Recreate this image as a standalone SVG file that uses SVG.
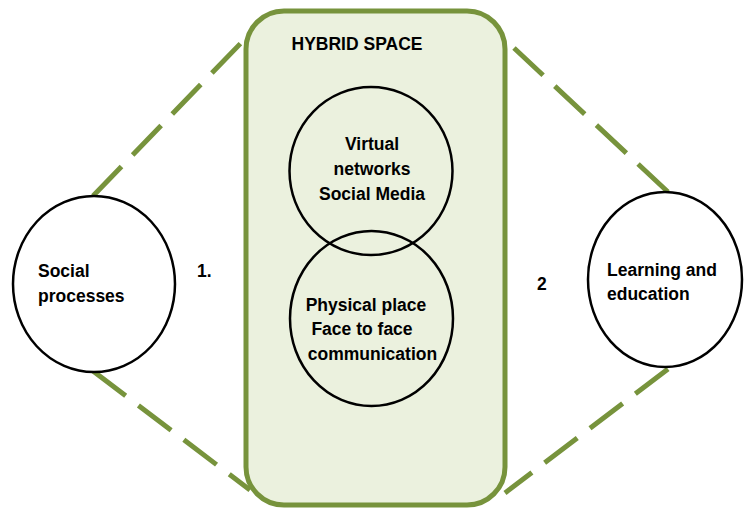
<svg xmlns="http://www.w3.org/2000/svg" width="744" height="511" viewBox="0 0 744 511">
  <style>
    .link { fill: none; stroke: #77933C; stroke-width: 5; stroke-dasharray: 41 16; }
    .hub { fill: #EBF1DE; stroke: #77933C; stroke-width: 5; }
    .bubble { fill: none; stroke: #000; stroke-width: 2.5; }
    .end { fill: #fff; stroke: #000; stroke-width: 2.5; }
    text { font-family: "Liberation Sans", Arial, sans-serif; font-weight: bold; font-size: 17.5px; fill: #000; }
    .mid { text-anchor: middle; }
  </style>
  <rect width="744" height="511" fill="#fff"/>

  <!-- dashed connectors between the outer circles and the hybrid space -->
  <g id="connectors">
    <path class="link" d="M93,196 L241,43"/>
    <path class="link" d="M668,192 L514,48"/>
    <path class="link" d="M93,371 L250,490"/>
    <path class="link" d="M668,369 L505,493"/>
  </g>

  <g id="hybrid-space">
    <rect class="hub" x="246" y="11" width="259" height="494" rx="38" ry="38"/>
    <text class="mid" x="357" y="50">HYBRID SPACE</text>
  </g>

  <g id="virtual">
    <ellipse class="bubble" cx="371" cy="171" rx="81.5" ry="84"/>
    <text class="mid" x="372" y="150">Virtual</text>
    <text class="mid" x="372" y="175">networks</text>
    <text class="mid" x="372" y="200">Social Media</text>
  </g>

  <g id="physical">
    <ellipse class="bubble" cx="371.5" cy="318.5" rx="81.5" ry="87.5"/>
    <text class="mid" x="366" y="311">Physical place</text>
    <text class="mid" x="362" y="335">Face to face</text>
    <text class="mid" x="372.5" y="360">communication</text>
  </g>

  <g id="social-processes">
    <ellipse class="end" cx="94" cy="284" rx="81" ry="88"/>
    <text x="38" y="277">Social</text>
    <text x="38" y="302">processes</text>
  </g>

  <g id="learning">
    <ellipse class="end" cx="665" cy="279.5" rx="77" ry="87.5"/>
    <text x="607" y="276">Learning and</text>
    <text x="607" y="300">education</text>
  </g>

  <g id="labels">
    <text x="197" y="277">1.</text>
    <text x="537" y="290">2</text>
  </g>
</svg>
